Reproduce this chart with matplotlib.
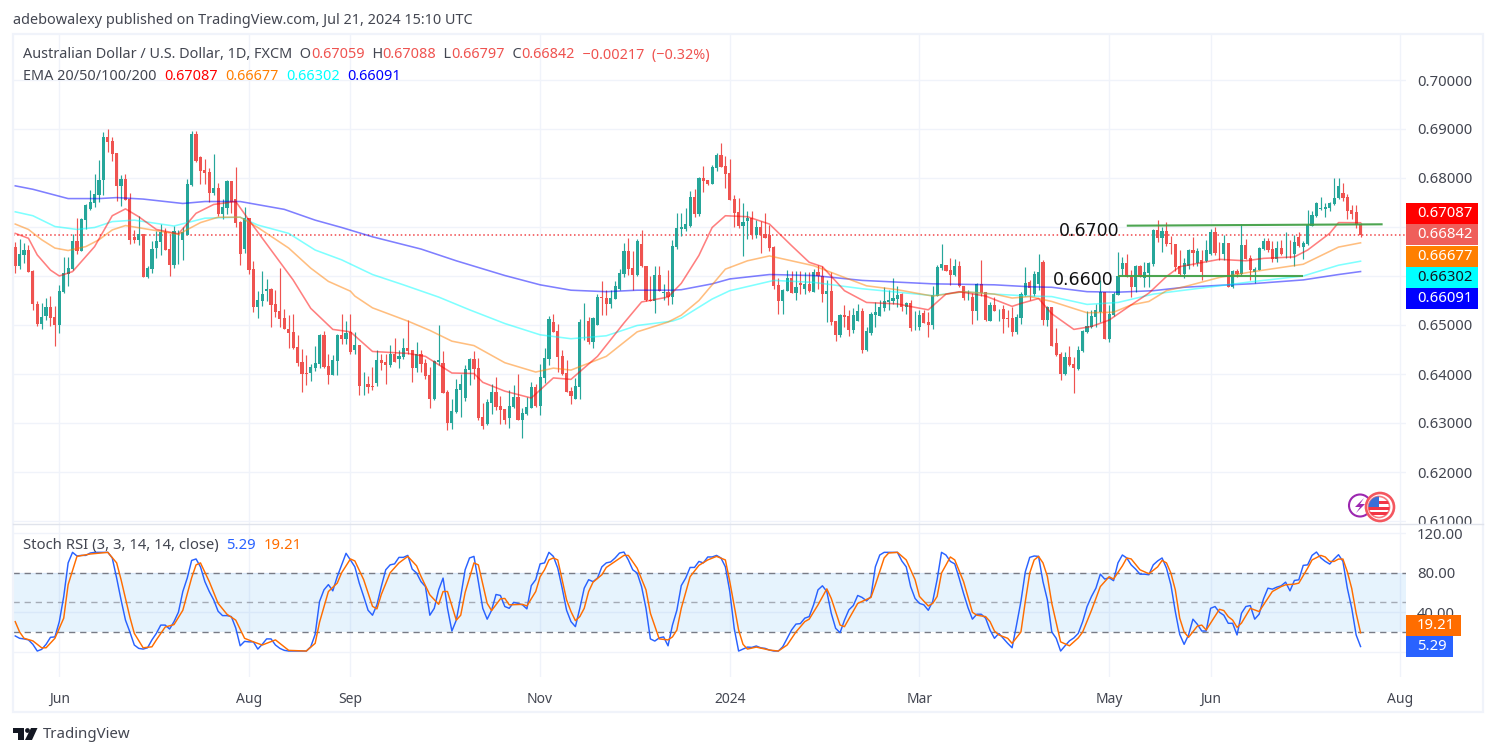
import numpy as np
import matplotlib
matplotlib.use("Agg")
import matplotlib.pyplot as plt
from matplotlib.patches import Rectangle, Circle, Polygon
from matplotlib.transforms import Bbox

# daily AUD/USD candles, prices in 1/10000
opens = [6659,6621,6642,6653,6610,6543,6503,6519,6537,6516,
    6500,6567,6604,6614,6672,6650,6714,6737,6749,6765,
    6795,6884,6876,6851,6784,6798,6757,6680,6674,6686,
    6598,6614,6657,6670,6690,6655,6623,6675,6674,6684,
    6786,6890,6843,6816,6812,6769,6780,6727,6739,6794,
    6757,6710,6655,6718,6614,6537,6549,6570,6574,6543,
    6529,6514,6492,6486,6455,6425,6402,6402,6412,6420,
    6480,6416,6398,6427,6480,6472,6486,6448,6460,6379,
    6380,6376,6382,6429,6425,6419,6440,6431,6435,6454,
    6448,6413,6440,6423,6397,6350,6425,6423,6364,6299,
    6323,6368,6352,6409,6431,6413,6313,6297,6340,6364,
    6335,6329,6311,6333,6354,6307,6319,6331,6374,6335,
    6391,6431,6507,6488,6437,6403,6366,6348,6374,6506,
    6509,6466,6499,6558,6556,6542,6554,6574,6605,6650,
    6617,6603,6666,6621,6552,6548,6603,6566,6568,6558,
    6660,6695,6695,6703,6762,6727,6801,6795,6788,6821,
    6846,6825,6811,6758,6731,6703,6713,6719,6684,6699,
    6686,6684,6660,6582,6548,6570,6595,6566,6585,6574,
    6584,6568,6609,6601,6564,6570,6509,6480,6521,6519,
    6489,6509,6529,6450,6484,6521,6519,6535,6546,6548,
    6554,6564,6537,6544,6495,6495,6525,6507,6501,6560,
    6617,6623,6613,6603,6621,6580,6557,6558,6529,6584,
    6568,6509,6540,6530,6533,6515,6515,6486,6515,6562,
    6588,6563,6584,6629,6510,6537,6463,6441,6400,6435,
    6420,6410,6447,6486,6496,6516,6527,6567,6472,6521,
    6561,6614,6627,6598,6578,6620,6596,6606,6625,6694,
    6678,6692,6667,6665,6620,6604,6620,6653,6626,6633,
    6631,6645,6690,6649,6645,6667,6578,6610,6604,6663,
    6637,6608,6612,6655,6671,6655,6635,6657,6648,6649,
    6645,6680,6659,6665,6702,6722,6737,6737,6739,6747,
    6759,6769,6761,6735,6731,6705.9]
highs = [6670,6676,6667,6663,6612,6548,6545,6555,6559,6539,
    6582,6638,6639,6685,6718,6718,6747,6776,6808,6837,
    6894,6901,6883,6851,6806,6808,6769,6694,6723,6686,
    6620,6672,6692,6706,6698,6686,6702,6694,6700,6798,
    6896,6896,6845,6839,6820,6849,6790,6757,6796,6794,
    6822,6712,6741,6718,6631,6570,6610,6594,6576,6572,
    6616,6533,6521,6523,6480,6451,6439,6420,6457,6482,
    6488,6441,6439,6482,6523,6508,6523,6486,6460,6405,
    6395,6415,6450,6440,6440,6460,6474,6450,6474,6511,
    6448,6466,6450,6431,6415,6429,6501,6446,6368,6348,
    6389,6400,6419,6433,6446,6433,6340,6348,6380,6393,
    6356,6329,6368,6378,6399,6331,6354,6384,6380,6421,
    6454,6519,6523,6503,6448,6429,6374,6391,6513,6544,
    6517,6517,6564,6590,6572,6572,6590,6615,6668,6678,
    6652,6676,6693,6621,6599,6621,6621,6584,6613,6674,
    6729,6729,6739,6774,6778,6803,6825,6795,6827,6852,
    6872,6844,6839,6766,6760,6748,6733,6733,6715,6713,
    6729,6705,6662,6595,6574,6613,6611,6611,6611,6609,
    6609,6615,6623,6621,6591,6609,6509,6523,6540,6530,
    6534,6542,6535,6495,6527,6546,6550,6578,6572,6595,
    6580,6566,6546,6552,6529,6531,6531,6527,6580,6623,
    6666,6623,6637,6635,6631,6580,6572,6566,6586,6633,
    6568,6546,6558,6533,6540,6531,6537,6523,6568,6619,
    6592,6610,6645,6633,6539,6537,6494,6445,6445,6457,
    6435,6457,6490,6529,6531,6543,6592,6567,6541,6567,
    6649,6639,6645,6612,6622,6622,6629,6629,6696,6714,
    6700,6710,6682,6665,6653,6637,6655,6680,6657,6653,
    6673,6696,6700,6669,6684,6667,6612,6614,6706,6676,
    6643,6618,6659,6678,6678,6671,6671,6673,6690,6673,
    6684,6690,6671,6735,6733,6751,6761,6749,6751,6800,
    6800,6790,6767,6745,6745,6708.8]
lows = [6607,6615,6626,6609,6531,6498,6491,6510,6497,6458,
    6484,6566,6580,6612,6645,6650,6695,6735,6740,6750,
    6765,6854,6835,6753,6742,6755,6665,6667,6663,6598,
    6596,6606,6637,6643,6653,6601,6616,6625,6633,6684,
    6784,6833,6788,6788,6751,6765,6723,6716,6727,6728,
    6700,6623,6647,6604,6527,6514,6539,6549,6496,6516,
    6496,6492,6453,6451,6417,6363,6378,6386,6407,6412,
    6412,6380,6398,6398,6461,6461,6440,6440,6358,6358,
    6362,6368,6376,6409,6380,6415,6425,6413,6431,6440,
    6384,6405,6405,6389,6331,6346,6419,6362,6285,6287,
    6321,6313,6344,6378,6389,6307,6287,6295,6319,6327,
    6297,6297,6289,6331,6307,6270,6317,6331,6333,6317,
    6382,6419,6486,6405,6397,6364,6338,6348,6348,6470,
    6462,6454,6499,6521,6521,6535,6554,6572,6597,6603,
    6572,6601,6619,6548,6548,6525,6570,6552,6540,6542,
    6656,6682,6692,6701,6721,6723,6772,6786,6788,6815,
    6823,6780,6756,6701,6697,6640,6676,6676,6678,6646,
    6678,6650,6574,6523,6523,6570,6566,6550,6564,6564,
    6568,6568,6574,6546,6507,6501,6468,6476,6495,6478,
    6484,6509,6442,6446,6480,6495,6519,6529,6531,6542,
    6537,6529,6523,6487,6489,6489,6505,6476,6491,6560,
    6613,6611,6582,6599,6578,6552,6550,6503,6511,6560,
    6509,6509,6529,6509,6484,6495,6478,6482,6503,6560,
    6551,6559,6571,6500,6498,6457,6437,6388,6398,6416,
    6361,6408,6445,6484,6494,6496,6506,6472,6465,6519,
    6561,6602,6598,6557,6567,6598,6578,6578,6620,6669,
    6649,6661,6645,6610,6600,6596,6614,6620,6620,6592,
    6629,6643,6643,6633,6633,6578,6576,6598,6600,6635,
    6592,6586,6612,6653,6649,6629,6629,6643,6637,6637,
    6620,6659,6635,6663,6702,6720,6735,6720,6733,6745,
    6757,6753,6716,6716,6698,6679.7]
closes = [6621,6645,6653,6609,6542,6503,6516,6537,6515,6500,
    6570,6606,6616,6672,6650,6716,6744,6751,6767,6796,
    6884,6874,6849,6784,6798,6755,6674,6674,6686,6598,
    6616,6655,6672,6690,6653,6623,6692,6676,6690,6788,
    6890,6835,6815,6810,6769,6780,6727,6741,6794,6751,
    6708,6645,6718,6612,6537,6551,6563,6574,6541,6527,
    6512,6492,6484,6453,6423,6400,6401,6414,6423,6480,
    6414,6398,6429,6480,6472,6484,6444,6460,6376,6380,
    6374,6374,6429,6423,6419,6440,6425,6437,6454,6446,
    6413,6440,6421,6395,6350,6427,6429,6362,6299,6325,
    6370,6380,6411,6431,6411,6311,6293,6342,6364,6333,
    6327,6307,6335,6354,6307,6321,6333,6374,6335,6393,
    6433,6513,6486,6435,6401,6364,6356,6376,6507,6507,
    6466,6515,6558,6556,6542,6556,6580,6607,6650,6615,
    6603,6672,6621,6550,6548,6603,6570,6567,6558,6662,
    6697,6701,6707,6762,6727,6801,6793,6788,6823,6846,
    6823,6809,6756,6729,6703,6711,6719,6684,6699,6684,
    6678,6658,6580,6548,6572,6595,6566,6578,6582,6584,
    6570,6609,6599,6564,6570,6507,6480,6521,6517,6489,
    6521,6529,6450,6487,6523,6527,6537,6548,6550,6556,
    6562,6537,6544,6493,6496,6521,6505,6501,6562,6619,
    6625,6611,6603,6621,6580,6556,6558,6529,6584,6566,
    6511,6540,6529,6531,6513,6513,6486,6517,6564,6586,
    6576,6604,6608,6510,6537,6457,6439,6400,6435,6418,
    6412,6449,6488,6498,6518,6531,6567,6472,6523,6563,
    6600,6627,6598,6578,6620,6598,6608,6627,6694,6678,
    6692,6665,6666,6618,6604,6627,6653,6647,6651,6608,
    6653,6690,6647,6648,6667,6578,6610,6604,6663,6635,
    6612,6614,6657,6671,6653,6635,6657,6645,6649,6648,
    6669,6661,6667,6704,6724,6749,6739,6741,6749,6759,
    6784,6759,6733,6727,6704,6684.2]

# moving averages at the listed bars
ema20_bars = [0,3,5,8,10,13,18,22,25,28,32,37,41,45,50,53,58,63,67,72,76,81,89,93,99,104,106,111,117,122,126,132,138,142,148,151,155,158,161,166,171,176,180,183,188,193,200,204,207,211,214,220,226,228,232,235,240,244,248,253,257,261,264,273,279,283,290,293,298,300,305]
ema20_vals = [6687,6677,6643,6612,6600,6609,6660,6723,6737,6721,6695,6686,6728,6746,6752,6714,6653,6592,6534,6491,6486,6446,6442,6436,6402,6401,6383,6365,6351,6392,6389,6436,6504,6547,6557,6585,6642,6699,6723,6721,6706,6662,6628,6619,6570,6546,6543,6536,6531,6563,6568,6559,6538,6544,6554,6523,6491,6497,6510,6541,6565,6599,6619,6634,6631,6636,6639,6653,6687,6709,6708.7]
ema50_bars = [0,3,6,9,12,16,19,22,25,29,33,37,42,46,51,55,62,67,71,76,77,81,89,94,99,104,111,118,122,126,134,141,148,151,155,161,166,171,181,188,193,200,208,215,222,226,230,235,243,249,253,257,261,265,273,280,292,300,305]
ema50_vals = [6706,6695,6674,6657,6652,6660,6674,6694,6703,6697,6691,6685,6709,6720,6720,6699,6657,6616,6589,6569,6559,6535,6508,6489,6467,6458,6423,6404,6412,6408,6436,6486,6506,6520,6550,6614,6631,6641,6621,6597,6580,6572,6559,6568,6563,6555,6558,6548,6525,6526,6541,6548,6570,6578,6597,6608,6624,6659,6667.7]
ema100_bars = [0,4,9,14,18,22,27,36,43,51,55,62,68,74,81,88,96,103,111,119,126,134,141,149,151,158,162,172,181,192,208,215,222,230,235,243,250,258,265,273,280,292,300,305]
ema100_vals = [6731,6723,6701,6695,6699,6711,6714,6702,6718,6720,6704,6687,6653,6633,6603,6582,6557,6531,6503,6480,6472,6478,6499,6508,6514,6553,6570,6591,6587,6574,6560,6568,6563,6559,6558,6542,6546,6563,6571,6580,6588,6600,6622,6630.2]
ema200_bars = [0,4,12,19,23,29,38,43,51,61,68,74,81,92,100,111,119,126,134,141,149,151,158,162,171,181,192,208,222,230,235,243,250,258,265,273,280,292,300,305]
ema200_vals = [6784,6777,6758,6758,6760,6757,6748,6752,6752,6736,6714,6699,6680,6655,6631,6601,6582,6571,6568,6571,6571,6572,6584,6594,6603,6601,6591,6584,6582,6578,6577,6568,6567,6570,6577,6581,6584,6592,6603,6609.1]

# stochastic RSI, %K one value per bar
stoch_k = [16,13.6,13,12,7.5,0.7,2.4,7.5,14.6,15,
    30.5,56,90,100.7,97,97.6,97.6,100,100.7,100.7,
    100.7,100.7,95,74.6,52.5,32,20,6.8,3.4,2.7,
    4,12,18.6,27,27,23,30.5,40,61,74.6,
    92.5,94,86,71,61,52.5,41,36.6,36.6,35.6,
    24,6,10.5,10,10,2.7,7.5,13,13,6.8,
    3.4,1.4,0.7,0.7,0.7,0.7,0.7,5,17.6,51,
    62.7,68,61.7,76,88,99.7,93,86,69.5,56,
    42,37,47.5,66,83,88,89,95.6,95.6,97.6,
    83.7,79.7,71,66,37,44,62.7,74.6,44,21,
    32,56,83,95,96.6,71,44,33,42,58,
    57,45.8,44,50,49,47.5,43.4,67,73,89,
    90,100.7,96.6,84.7,64.4,42,30.5,25.4,44,64.4,
    73,71,74.6,86,90,91,95,100,101,93,
    83,79.7,66,44,13,10.8,14,15,6,27,
    42,67,74.6,85.4,85.4,91.5,90,96,96,97.6,
    95,86,61,23.7,0.7,2.7,4.7,4.4,5.8,4,
    3.4,1.7,0.7,0.7,5,13.6,22,28,28.5,34,
    35.6,47.5,62.7,66.8,61,39,23.7,19.3,32,42.4,
    46.8,57,55,51.5,56,86,98,100.7,100.7,100.7,
    100.7,92,86,66,54,49,47.5,42,51,73,
    100.7,98,91.5,89,74.6,59,44.7,33,38,38,
    34,22,13.6,18.6,13.6,8.5,4,27,51,81,
    95.6,97,96.6,71,52.5,20,13.6,0.7,6,11,
    14,18.6,30.5,45.8,56,64.4,78.6,73.6,75,72,
    90,98,95,88,83.7,78.6,78.6,78,88,92,
    95,84.7,67.8,40.7,17.6,7.5,17,33,27.8,21,
    21,44,45.8,40,37,28.8,28.8,17,39,45.8,
    46.8,33,38,53.6,64.4,63.4,65.4,66.8,70.5,61.7,
    72.2,72.9,87.5,88,97.6,101,95,91.5,88.8,93.9,
    98.3,91.5,64.4,44,17,5.29]
stoch_d_bars = [0,1,2,4,6,7,9,11,12,14,17,21,23,24,26,27,29,31,32,34,36,38,40,41,42,44,46,48,50,52,54,56,59,62,66,68,69,71,73,74,76,77,79,81,82,83,85,87,89,91,92,94,96,97,98,100,101,102,104,105,107,108,
    110,111,112,115,116,118,119,120,121,122,123,124,125,126,127,128,129,130,131,133,134,136,138,139,141,143,144,146,148,149,150,151,153,155,157,159,161,162,164,165,166,168,171,173,175,177,179,180,182,184,185,187,188,191,194,195,197,198,200,202,204,205,207,208,209,210,212,213,215,217,218,220,221,222,223,
    225,226,228,229,230,231,232,233,234,235,237,239,241,242,244,246,248,249,251,252,253,255,257,259,260,261,262,263,264,265,266,268,269,270,273,274,275,276,277,278,280,282,285,287,288,290,291,293,294,296,297,298,299,300,301,302,303,304,305]
stoch_d_vals = [30.5,20,13.6,11,4,4,13.6,34,68,96.6,99,100.7,90,73,35,18.6,4,5,12,25,27.5,42,75,88,90,71,49,38,32,13.6,10,6.8,12,1.4,0.7,8.5,30,61,69.5,80,94,92,73,46,43.4,58,80,90,96.6,87,76.3,57.6,48,61,61,32,37,60,90,88,49,41.7,
    53.6,54,47.5,48,46.4,61,76,83,93,95,93,73,52.5,40.7,31.5,35.6,44,61,70.5,78,85.4,91.5,97.6,97.6,84.7,62.7,39,13,12,15,22,44,76,87.5,93,96.6,93,71,22,7.5,2.7,4.7,1.7,0.7,6.8,20,30.5,33,47.5,63.7,54,27,25.4,49,55,67.8,95,100,100.7,93,73,56,46.4,49,56,79.7,96,93,71,40,37,35.6,30.5,21,17,
    13.6,8.5,20,51,79.7,93,96.6,90,76.3,49,10,6,14,20,42,66,76,73.6,87,95,94,83,79,86,92.5,90,79.7,62.7,34,20,14.6,26,27,22,43,41.7,35.6,32,24.7,29,44,40.7,61,66,67.8,68.5,69.5,84.7,93,97.6,96,91.5,91.5,93.9,93.9,81,64,39,19.21]

price_ticks = [0.61,0.62,0.63,0.64,0.65,0.66,0.67,0.68,0.69,0.70]
stoch_ticks = [0,40,80,120]
month_bars = [10,53,76,119,162,205,248,271,314]
month_labels = ["Jun","Aug","Sep","Nov","2024","Mar","May","Jun","Aug"]
level_bars = [[252,310],[250,292]]
level_vals = [[0.67027,0.67055],[0.66,0.66]]

W, H = 1496, 756
FONT = "Noto Sans"
TXT = "#434651"
UP, DOWN = "#26a69a", "#ef5350"
GRID = "#f0f3fa"
plt.rcParams["font.family"] = [FONT, "DejaVu Sans"]


def pane(left, top, right, bottom):
    # axes from pixel edges of the picture
    return fig.add_axes([left / W, 1 - bottom / H, (right - left) / W, (bottom - top) / H])


def row(x, y, parts, size=10.4):
    # consecutive coloured pieces on one baseline
    rend = fig.canvas.get_renderer()
    for s, col in parts:
        t = ov.text(x, y, s, color=col, fontsize=size, va="center", ha="left", zorder=6)
        x = ov.transData.inverted().transform(t.get_window_extent(rend))[1][0]


fig = plt.figure(figsize=(W / 100, H / 100), dpi=100, facecolor="white")
ax = pane(13, 35, 1406, 524)
sx = pane(13, 525, 1406, 677)
ov = fig.add_axes([0, 0, 1, 1], zorder=10)
ov.set_xlim(0, W)
ov.set_ylim(H, 0)
ov.axis("off")

o, h, l, c = [np.array(v) / 10000 for v in (opens, highs, lows, closes)]
bars = np.arange(len(o))
cols = [UP if b >= a else DOWN for a, b in zip(o, c)]

ax.vlines(bars, l, h, colors=cols, lw=0.85, zorder=3)
ax.bar(bars, np.abs(c - o), bottom=np.minimum(o, c), width=0.72, color=cols, lw=0, zorder=3)
ax.axhline(c[-1], color="#f0474a", lw=1.1, ls=(0, (1, 1.7)), zorder=2)

for b, v, col in [(ema200_bars, ema200_vals, "#0000ff"), (ema100_bars, ema100_vals, "#00ffff"),
                  (ema50_bars, ema50_vals, "#ff7f00"), (ema20_bars, ema20_vals, "#ff0000")]:
    ax.plot(b, np.array(v) / 10000, color=col, lw=1.15, alpha=0.5, zorder=4)

for b, v in zip(level_bars, level_vals):
    ax.plot(b, v, color="#43a047", lw=1.5, alpha=0.95, zorder=5, solid_capstyle="butt")
ax.text(level_bars[0][0] - 1.6, 0.66925, "0.6700", fontsize=12.5, family="DejaVu Sans", color="#111111", ha="right", va="center", zorder=6)
ax.text(level_bars[1][0] - 0.9, 0.65925, "0.6600", fontsize=12.5, family="DejaVu Sans", color="#111111", ha="right", va="center", zorder=6)

ax.set_xlim(-0.5, 315.3)
ax.set_ylim(0.70 - 444 / 4900, 0.70 + 45 / 4900)
ax.set_xticks(month_bars)
ax.set_yticks(price_ticks)
ax.yaxis.tick_right()
ax.set_yticklabels(["%.5f" % p for p in price_ticks])
ax.tick_params(length=0, labelbottom=False, labelsize=10.7, labelcolor=TXT, pad=8)
ax.grid(True, color=GRID, lw=1)
ax.set_axisbelow(True)
for sp in ax.spines.values():
    sp.set_visible(False)

# the lowest price label is cut by the pane edge, two more sit under the tags
price_labels = ax.get_yticklabels()
price_labels[0].set_clip_on(True)
price_labels[0].set_clip_box(Bbox([[0, H - 524], [W, H]]))
price_labels[5].set_visible(False)
price_labels[6].set_visible(False)

sx.axhspan(20, 80, color="#2196f3", alpha=0.11, lw=0, zorder=1)
for lev, al in [(80, 1), (20, 1), (50, 0.6)]:
    sx.axhline(lev, color="#787b86", lw=1, ls=(0, (4.5, 3.5)), alpha=al, zorder=2)
sx.plot(bars, stoch_k, color="#2962ff", lw=1.05, zorder=3)
sx.plot(stoch_d_bars, stoch_d_vals, color="#ff6d00", lw=1.05, zorder=4)
sx.set_xlim(-0.5, 315.3)
sx.set_ylim(-25.6, 128.4)
sx.set_xticks(month_bars)
sx.set_xticklabels(month_labels)
sx.get_xticklabels()[4].set_fontweight("bold")
sx.set_yticks(stoch_ticks)
sx.set_yticklabels(["%.2f" % v for v in stoch_ticks])
sx.yaxis.tick_right()
sx.tick_params(axis="y", length=0, labelsize=10.7, labelcolor=TXT, pad=8)
sx.tick_params(axis="x", length=0, labelsize=10, labelcolor=TXT, pad=11)
sx.get_yticklabels()[0].set_visible(False)
sx.grid(True, color=GRID, lw=1)
sx.set_axisbelow(True)
for sp in sx.spines.values():
    sp.set_visible(False)

# frame round the chart
ov.add_patch(Rectangle((13, 34), 1470, 678, fill=False, ec=GRID, lw=1.6))
ov.plot([13, 1483], [524, 524], color="#e0e3eb", lw=1)

# price scale tags
tags = [(203, "#ff0000", "0.67087", "white"), (224, "#ef5f5b", "0.66842", "white"),
        (246, "#ff7f00", "0.66677", "white"), (267, "#00ffff", "0.66302", "#131722"),
        (288, "#0000ff", "0.66091", "white")]
for y, col, s, tc in tags:
    ov.add_patch(Rectangle((1406, y), 72, 21, fc=col, ec="none", zorder=5))
    ov.text(1417, y + 10.5, s, color=tc, fontsize=10.7, va="center", zorder=6)
ov.add_patch(Rectangle((1406, 615), 55, 21, fc="#ff6d00", ec="none", zorder=5))
ov.text(1417, 625.5, "19.21", color="white", fontsize=10.7, va="center", zorder=6)
ov.add_patch(Rectangle((1406, 636), 47, 21, fc="#2962ff", ec="none", zorder=5))
ov.text(1417, 646.5, "5.29", color="white", fontsize=10.7, va="center", zorder=6)

fig.canvas.draw()
row(13, 20.5, [("adebowalexy published on TradingView.com, Jul 21, 2024 15:10 UTC", TXT)])
row(23, 55, [("Australian Dollar / U.S. Dollar, 1D, FXCM  O", TXT), ("0.67059", DOWN), ("  H", TXT), ("0.67088", DOWN),
             ("  L", TXT), ("0.66797", DOWN), ("  C", TXT), ("0.66842", DOWN), ("  \u22120.00217  (\u22120.32%)", DOWN)])
row(23, 76, [("EMA 20/50/100/200  ", TXT), ("0.67087", "#ff0000"), ("  ", TXT), ("0.66677", "#ff7f00"), ("  ", TXT),
             ("0.66302", "#00ffff"), ("  ", TXT), ("0.66091", "#0000ff")])
row(23, 545.5, [("Stoch RSI (3, 3, 14, 14, close)  ", TXT), ("5.29", "#2962ff"), ("  ", TXT), ("19.21", "#ff6d00")], 10.7)

# event icons
ov.add_patch(Circle((1360, 505.5), 11, fc="white", ec="#9c27b0", lw=1.5, zorder=5))
ov.add_patch(Polygon([[1364, 498], [1355, 507], [1360, 507], [1356, 513], [1365, 504], [1360, 504]], fc="#9c27b0", ec="none", zorder=5))
ov.add_patch(Circle((1380, 507), 14, fc="white", ec="#f4575f", lw=1.9, zorder=6))
flag = Circle((1379, 507), 10.5, fc="white", ec="#f77c80", lw=1.2, zorder=6)
ov.add_patch(flag)
stripes = [Rectangle((1368, 507), 22, 2.6, fc="#f23645", ec="none", zorder=7),
           Rectangle((1368, 512), 22, 2.6, fc="#f23645", ec="none", zorder=7),
           Rectangle((1379, 501), 11, 2.6, fc="#f23645", ec="none", zorder=7),
           Rectangle((1368, 496), 11, 11, fc="#3a6fd8", ec="none", zorder=7)]
for s in stripes:
    ov.add_patch(s)
    s.set_clip_path(flag)

# logo and wordmark
ink = "#131722"
ov.add_patch(Rectangle((13, 728), 11, 5, fc=ink, ec="none"))
ov.add_patch(Rectangle((18, 728), 6, 12, fc=ink, ec="none"))
ov.add_patch(Circle((27.5, 730.5), 2.4, fc=ink, ec="none"))
ov.add_patch(Polygon([[31, 728], [37.5, 728], [32, 740], [25, 740]], fc=ink, ec="none"))
ov.text(43, 735, "TradingView", color=TXT, fontsize=10.8, va="center", ha="left")

fig.savefig("out.png", dpi=100)
